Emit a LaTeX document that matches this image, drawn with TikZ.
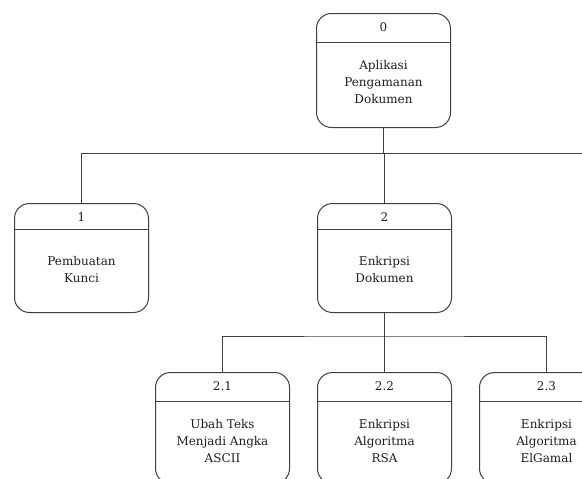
\documentclass[tikz,border=0pt]{standalone}
\usepackage{fontspec}
\setmainfont{DejaVu Serif}
\begin{document}
\begin{tikzpicture}[x=1pt,y=1pt,
  ink/.style={draw=black!75, line width=1pt},
  procbox/.style={ink, rounded corners=15pt, minimum width=134pt, anchor=north west, inner sep=0pt},
  numtext/.style={font=\fontsize{12}{17}\selectfont, text=black!88, inner sep=0pt},
  labeltext/.style={font=\fontsize{12}{17}\selectfont, text=black!88, align=center, inner sep=0pt},
  divider/.style={ink}
]
\useasboundingbox (0,0) rectangle (582,-479);
\clip (0,0) rectangle (582,-479);

% top level process
\node[procbox, minimum height=114pt] (b0) at (316,-13) {};
\draw[divider] ([yshift=-29pt]b0.north west) -- ([yshift=-29pt]b0.north east);
\node[numtext] (n0) at ([yshift=-14pt]b0.north) {0};
\node[labeltext] (t0) at ([yshift=-69pt]b0.north) {Aplikasi\\Pengamanan\\Dokumen};

% second level
\node[procbox, minimum height=109pt] (b1) at (14,-203) {};
\draw[divider] ([yshift=-26pt]b1.north west) -- ([yshift=-26pt]b1.north east);
\node[numtext] (n1) at ([yshift=-14pt]b1.north) {1};
\node[labeltext] (t1) at ([yshift=-67pt]b1.north) {Pembuatan\\Kunci};

\node[procbox, minimum height=109pt] (b2) at (317,-203) {};
\draw[divider] ([yshift=-26pt]b2.north west) -- ([yshift=-26pt]b2.north east);
\node[numtext] (n2) at ([yshift=-14pt]b2.north) {2};
\node[labeltext] (t2) at ([yshift=-67pt]b2.north) {Enkripsi\\Dokumen};

% third level
\node[procbox, minimum height=111pt] (b21) at (155,-372) {};
\draw[divider] ([yshift=-29pt]b21.north west) -- ([yshift=-29pt]b21.north east);
\node[numtext] (n21) at ([yshift=-14pt]b21.north) {2.1};
\node[labeltext] (t21) at ([yshift=-69pt]b21.north) {Ubah Teks\\Menjadi Angka\\ASCII};

\node[procbox, minimum height=111pt] (b22) at (317,-372) {};
\draw[divider] ([yshift=-29pt]b22.north west) -- ([yshift=-29pt]b22.north east);
\node[numtext] (n22) at ([yshift=-14pt]b22.north) {2.2};
\node[labeltext] (t22) at ([yshift=-69pt]b22.north) {Enkripsi\\Algoritma\\RSA};

\node[procbox, minimum height=111pt] (b23) at (479,-372) {};
\draw[divider] ([yshift=-29pt]b23.north west) -- ([yshift=-29pt]b23.north east);
\node[numtext] (n23) at ([yshift=-14pt]b23.north) {2.3};
\node[labeltext] (t23) at ([yshift=-69pt]b23.north) {Enkripsi\\Algoritma\\ElGamal};

% connectors
\coordinate (bus1end) at (582,-153);
\draw[ink] (b0.south) -- (b0.south |- bus1end);
\draw[ink] (b1.north) |- (bus1end);
\draw[ink] (b2.north) -- (b2.north |- bus1end);

\coordinate (bus2) at (0,-336);
\draw[ink] (b2.south) -- (b2.south |- bus2);
\draw[ink] (b21.north) |- (b2.south |- bus2) -| (b23.north);
\draw[ink] (b22.north) -- (b22.north |- bus2);
\end{tikzpicture}
\end{document}
